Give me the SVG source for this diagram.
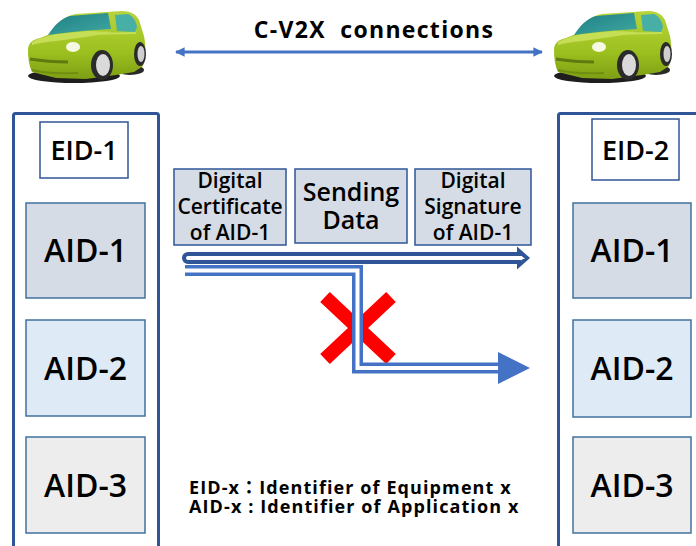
<svg xmlns="http://www.w3.org/2000/svg" xmlns:xlink="http://www.w3.org/1999/xlink" width="696" height="546" viewBox="0 0 696 546">
  <style>
    .outer { fill: #FFFFFF; stroke: #2F5597; stroke-width: 3; }
    .eid { fill: #FFFFFF; stroke: #2F5597; stroke-width: 1.5; }
    .aid { stroke: #41719C; stroke-width: 1.5; }
    .aid1 { fill: #D6DCE5; }
    .aid2 { fill: #DEEBF7; }
    .aid3 { fill: #EDEDED; }
    .msg { fill: #D6DCE5; stroke: #2F5597; stroke-width: 1.5; }
    text { font-family: "Open Sans", "Noto Sans", "Noto Sans CJK JP", "Liberation Sans", sans-serif; fill: #000000; font-weight: 600; }
    .lbl-aid { font-size: 32px; text-anchor: middle; }
    .lbl-eid { font-size: 27px; text-anchor: middle; }
    .lbl-msg { font-size: 21px; text-anchor: middle; }
    .lbl-msg-big { font-size: 25px; text-anchor: middle; }
    .title { font-size: 23px; font-weight: bold; text-anchor: middle; letter-spacing: 1.3px; }
    .legend { font-size: 18px; font-weight: bold; letter-spacing: 1.1px; }
  </style>
  <defs>
    <marker id="tip" viewBox="0 0 10 10" refX="9" refY="5" markerWidth="3.6" markerHeight="3.2" orient="auto-start-reverse" markerUnits="strokeWidth">
      <path d="M0,0 L10,5 L0,10 Z" fill="#4472C4"/>
    </marker>
    <linearGradient id="glass" x1="0" y1="0" x2="1" y2="1">
      <stop offset="0" stop-color="#1F7F86"/>
      <stop offset="1" stop-color="#3FA8A0"/>
    </linearGradient>
    <linearGradient id="paint" x1="0" y1="0" x2="0" y2="1">
      <stop offset="0" stop-color="#B7D43A"/>
      <stop offset="0.6" stop-color="#9CC11F"/>
      <stop offset="1" stop-color="#7E9E14"/>
    </linearGradient>
    <!-- small green hatchback, local box about 120 x 75 -->
    <g id="car">
      <ellipse cx="48" cy="66" rx="46" ry="7" fill="#1E1E1E"/>
      <ellipse cx="104" cy="60" rx="14" ry="5" fill="#2A2A2A"/>
      <path d="M2 40 C2 33 6 30 14 28 L24 24 C30 14 38 6 50 4 L96 1 C104 1 110 4 113 10 L118 26 C120 36 120 48 117 56 L108 62 L90 65 L60 69 L30 68 L6 62 C3 56 2 48 2 40 Z" fill="url(#paint)"/>
      <!-- hood highlight -->
      <path d="M6 32 C14 28 22 26 30 24 L62 21 L86 22 C70 26 50 28 30 31 C20 32 12 33 6 35 Z" fill="#C6DE55"/>
      <!-- windshield -->
      <path d="M22 25 C28 16 34 9 44 6 L82 3 L85 19 C66 20 42 22 22 25 Z" fill="url(#glass)"/>
      <!-- side window -->
      <path d="M89 5 L102 4 C107 6 110 11 111 17 L109 22 L91 21 Z" fill="#47AFA6"/>
      <!-- belt line -->
      <path d="M60 24 L110 23" stroke="#C6DE55" stroke-width="2" fill="none"/>
      <!-- grille and bumper -->
      <path d="M4 49 C16 51 28 52 42 52" stroke="#5E7A10" stroke-width="3" fill="none"/>
      <path d="M6 60 C18 63 32 64 52 63" stroke="#6F8E12" stroke-width="2" fill="none"/>
      <!-- headlight -->
      <ellipse cx="47" cy="37" rx="7" ry="5" fill="#F6F9E2"/>
      <!-- wheels -->
      <ellipse cx="76" cy="55" rx="11" ry="15" fill="#2B2B2B"/>
      <ellipse cx="77" cy="55" rx="7" ry="11" fill="#DADADA"/>
      <ellipse cx="114" cy="44" rx="6" ry="12" fill="#2B2B2B"/>
      <ellipse cx="115" cy="44" rx="3.5" ry="8" fill="#CFCFCF"/>
    </g>
  </defs>

  <rect width="696" height="546" fill="#FFFFFF"/>

  <!-- vehicles -->
  <use id="car-1" xlink:href="#car" x="26" y="10"/>
  <use id="car-2" xlink:href="#car" x="552" y="10"/>

  <!-- C-V2X link label -->
  <g id="cv2x-link">
    <text class="title" x="374" y="38" xml:space="preserve">C-V2X  connections</text>
  </g>

  <!-- equipment 1 -->
  <g id="equipment-1">
    <rect class="outer" x="13.5" y="113.5" width="145" height="460" rx="2"/>
    <g id="eid-1">
      <rect class="eid" x="40" y="122" width="88" height="56"/>
      <text class="lbl-eid" x="84" y="160">EID-1</text>
    </g>
    <g id="e1-aid-1">
      <rect class="aid aid1" x="26" y="203" width="119" height="95"/>
      <text class="lbl-aid" x="85.5" y="262">AID-1</text>
    </g>
    <g id="e1-aid-2">
      <rect class="aid aid2" x="26" y="320" width="119" height="96"/>
      <text class="lbl-aid" x="85.5" y="380">AID-2</text>
    </g>
    <g id="e1-aid-3">
      <rect class="aid aid3" x="26" y="437" width="119" height="96"/>
      <text class="lbl-aid" x="85.5" y="497">AID-3</text>
    </g>
  </g>

  <!-- equipment 2 -->
  <g id="equipment-2">
    <rect class="outer" x="558.5" y="113.5" width="150" height="460" rx="2"/>
    <g id="eid-2">
      <rect class="eid" x="592" y="119" width="87" height="61"/>
      <text class="lbl-eid" x="635.5" y="160">EID-2</text>
    </g>
    <g id="e2-aid-1">
      <rect class="aid aid1" x="573" y="203" width="118" height="95"/>
      <text class="lbl-aid" x="632" y="262">AID-1</text>
    </g>
    <g id="e2-aid-2">
      <rect class="aid aid2" x="573" y="320" width="118" height="97"/>
      <text class="lbl-aid" x="632" y="380">AID-2</text>
    </g>
    <g id="e2-aid-3">
      <rect class="aid aid3" x="573" y="437" width="118" height="96"/>
      <text class="lbl-aid" x="632" y="497">AID-3</text>
    </g>
  </g>

  <!-- message parts -->
  <g id="certificate">
    <rect class="msg" x="174" y="169" width="112" height="76"/>
    <text class="lbl-msg" x="230" y="188">Digital</text>
    <text class="lbl-msg" x="230" y="214">Certificate</text>
    <text class="lbl-msg" x="230" y="240">of AID-1</text>
  </g>
  <g id="sending-data">
    <rect class="msg" x="295" y="169" width="112" height="74"/>
    <text class="lbl-msg-big" x="351" y="201">Sending</text>
    <text class="lbl-msg-big" x="351" y="229">Data</text>
  </g>
  <g id="signature">
    <rect class="msg" x="415" y="169" width="116" height="76"/>
    <text class="lbl-msg" x="473" y="188">Digital</text>
    <text class="lbl-msg" x="473" y="214">Signature</text>
    <text class="lbl-msg" x="473" y="240">of AID-1</text>
  </g>

  <!-- rejection mark -->
  <g id="reject">
    <path d="M325 297 L391 359 M391 297 L325 359" stroke="#FF0000" stroke-width="14" fill="none"/>
  </g>

  <!-- connectors -->
  <g id="connectors">
    <line x1="176" y1="52" x2="542" y2="52" stroke="#4472C4" stroke-width="3" marker-start="url(#tip)" marker-end="url(#tip)"/>
    <path d="M188 254 H519 V251 L527 258 L519 265 V262 H188 A4 4 0 0 1 188 254 Z" fill="#FFFFFF" stroke="#2F5597" stroke-width="4" stroke-linejoin="miter"/>
    <path d="M185 270.5 H357.5 V368 H500" fill="none" stroke="#4472C4" stroke-width="11"/>
    <path d="M185 270.5 H357.5 V368 H500" fill="none" stroke="#FFFFFF" stroke-width="4"/>
    <polygon points="498,352 530,368 498,384" fill="#4472C4"/>
  </g>

  <!-- legend -->
  <g id="legend">
    <text class="legend" x="189" y="494">EID-x：Identifier of Equipment x</text>
    <text class="legend" x="189" y="513">AID-x : Identifier of Application x</text>
  </g>
</svg>
